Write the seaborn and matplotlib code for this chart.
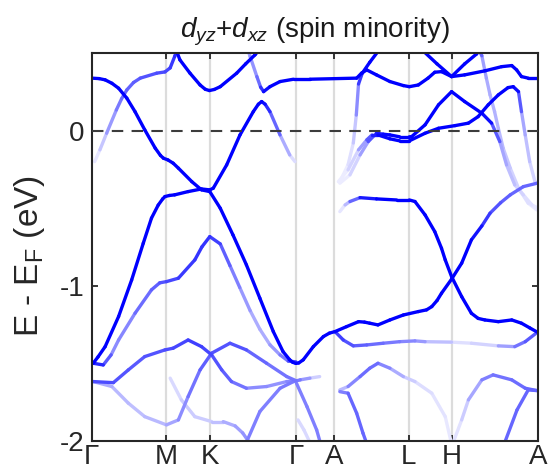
import matplotlib
matplotlib.use("Agg")
import matplotlib.pyplot as plt
import numpy as np
import pandas as pd
import seaborn as sns
from matplotlib.colors import LinearSegmentedColormap

# ---------------- data ----------------
kpos = [0.0, 1.0, 1.577, 2.732, 3.243, 4.243, 4.820, 5.975]
klabels = ["Γ", "M", "K", "Γ", "A", "L", "H", "A"]
yticks = [-2, -1, 0]
ytick_labels = ["-2", "-1", "0"]

# each band: (k, E [eV], weight of dyz+dxz character)
band_a = [(0.00, 0.338, 1), (0.10, 0.335, 1), (0.18, 0.327, 1), (0.27, 0.305, 1), (0.36, 0.273, 1),
          (0.47, 0.209, 1), (0.58, 0.122, 1), (0.71, 0.005, 1), (0.85, -0.113, 1), (0.92, -0.16, 1),
          (0.96, -0.178, 1), (1.02, -0.189, 1), (1.09, -0.21, 1), (1.16, -0.242, 1),
          (1.34, -0.329, 1), (1.47, -0.382, 1), (1.58, -0.393, 1), (1.72, -0.50, 1), (1.89, -0.672, 1),
          (2.07, -0.865, 1), (2.25, -1.08, 1), (2.43, -1.295, 1), (2.56, -1.424, 1), (2.65, -1.477, 1),
          (2.69, -1.493, 1), (2.732, -1.50, 1), (2.77, -1.497, 1), (2.83, -1.477, 1), (2.965, -1.392, 1),
          (3.10, -1.327, 1), (3.18, -1.305, 1), (3.255, -1.295, 1),
          (3.41, -1.263, 1), (3.57, -1.231, 1), (3.65, -1.234, 1), (3.72, -1.241, 1), (3.83, -1.252, 1),
          (3.99, -1.22, 1), (4.17, -1.188, 1), (4.37, -1.166, 1), (4.48, -1.155, 1), (4.55, -1.134, 1),
          (4.62, -1.095, 1), (4.68, -1.048, 1), (4.815, -0.957, 1),
          (4.95, -0.854, 1), (5.08, -0.704, 1), (5.22, -0.614, 0.85), (5.33, -0.532, 0.7),
          (5.47, -0.465, 0.65), (5.60, -0.414, 0.6), (5.775, -0.361, 0.6), (5.975, -0.337, 0.6)]
band_b = [(0.02, -1.499, 1), (0.085, -1.458, 1), (0.18, -1.392, 1), (0.36, -1.198, 1), (0.535, -0.962, 1),
          (0.69, -0.726, 1), (0.80, -0.564, 1), (0.89, -0.48, 1), (0.95, -0.44, 1), (0.98, -0.425, 1),
          (1.04, -0.418, 1), (1.11, -0.414, 1), (1.29, -0.393, 1),
          (1.47, -0.376, 1), (1.58, -0.382, 1), (1.627, -0.371, 1), (1.806, -0.221, 1), (1.984, -0.028, 1),
          (2.162, 0.122, 1), (2.23, 0.17, 1), (2.274, 0.187, 1), (2.32, 0.17, 0.9), (2.385, 0.122, 0.75),
          (2.52, -0.028, 0.45), (2.65, -0.157, 0.2), (2.72, -0.20, 0.08)]
band_c = [(0.04, -0.20, 0.05), (0.11, -0.124, 0.15), (0.20, -0.017, 0.3), (0.33, 0.133, 0.5),
          (0.40, 0.205, 0.55), (0.47, 0.262, 0.6), (0.56, 0.31, 0.62), (0.65, 0.338, 0.65),
          (0.87, 0.37, 0.7), (0.98, 0.378, 0.7), (1.05, 0.404, 0.75), (1.11, 0.477, 0.8),
          (1.14, 0.52, 0.85)]
band_d = [(1.13, 0.52, 1), (1.18, 0.456, 1), (1.315, 0.37, 1), (1.45, 0.294, 1), (1.52, 0.266, 1),
          (1.575, 0.258, 1), (1.64, 0.265, 1), (1.72, 0.283, 1), (1.94, 0.37, 1), (2.06, 0.43, 1),
          (2.185, 0.488, 1), (2.24, 0.52, 1)]
band_e = [(2.09, 0.52, 0.35), (2.12, 0.477, 0.4), (2.21, 0.348, 0.45), (2.26, 0.28, 0.7), (2.30, 0.251, 0.9),
          (2.385, 0.283, 1), (2.52, 0.316, 1), (2.70, 0.331, 1), (2.92, 0.331, 1), (3.545, 0.338, 1),
          (3.61, 0.37, 1), (3.68, 0.391, 1), (3.81, 0.359, 1), (3.99, 0.316, 1), (4.17, 0.29, 1),
          (4.25, 0.283, 1), (4.37, 0.294, 1), (4.50, 0.338, 1), (4.59, 0.376, 1), (4.68, 0.38, 1),
          (4.815, 0.348, 1), (4.99, 0.359, 1), (5.26, 0.385, 1), (5.485, 0.412, 1), (5.62, 0.419, 1),
          (5.685, 0.391, 1), (5.75, 0.348, 1), (5.84, 0.338, 1), (5.975, 0.338, 1)]
band_f = [(3.32, -0.33, 0.05), (3.43, -0.22, 0.1), (3.50, -0.08, 0.15), (3.54, 0.10, 0.3),
          (3.57, 0.30, 0.6), (3.62, 0.37, 0.95), (3.72, 0.44, 1), (3.83, 0.51, 1)]
band_g = [(3.32, -0.339, 0.05), (3.455, -0.285, 0.1), (3.59, -0.157, 0.25), (3.70, -0.071, 0.5),
          (3.81, -0.017, 0.85), (3.90, -0.023, 0.95), (3.99, -0.028, 1), (4.12, -0.04, 1),
          (4.25, -0.04, 1), (4.28, -0.039, 1), (4.46, 0.037, 1), (4.64, 0.166, 1), (4.815, 0.251, 1),
          (4.99, 0.187, 1), (5.22, 0.112, 1), (5.35, 0.048, 0.9), (5.46, -0.071, 0.4),
          (5.55, -0.221, 0.3), (5.66, -0.35, 0.2), (5.775, -0.414, 0.15), (5.89, -0.479, 0.1),
          (5.975, -0.50, 0.1)]
band_h = [(3.30, -0.329, 0.05), (3.43, -0.253, 0.1), (3.57, -0.124, 0.25), (3.68, -0.06, 0.5),
          (3.75, -0.028, 0.8), (3.83, -0.028, 0.95), (3.99, -0.053, 1), (4.12, -0.066, 1),
          (4.25, -0.066, 1), (4.46, -0.017, 1), (4.64, 0.015, 1), (4.86, 0.032, 1), (5.04, 0.048, 1),
          (5.17, 0.09, 1), (5.305, 0.166, 1), (5.44, 0.23, 1), (5.57, 0.277, 1), (5.64, 0.283, 1),
          (5.71, 0.251, 0.9), (5.75, 0.122, 0.4), (5.80, -0.028, 0.3), (5.86, -0.20, 0.2),
          (5.93, -0.329, 0.15), (5.975, -0.343, 0.1)]
band_i = [(4.42, 0.52, 1), (4.62, 0.43, 1), (4.815, 0.348, 1), (4.99, 0.43, 1), (5.15, 0.494, 1),
          (5.18, 0.52, 0.8), (5.22, 0.482, 0.4), (5.28, 0.338, 0.35), (5.33, 0.23, 0.3),
          (5.39, 0.122, 0.3), (5.44, 0.015, 0.3), (5.505, -0.113, 0.25), (5.60, -0.242, 0.2),
          (5.71, -0.371, 0.15), (5.84, -0.468, 0.1), (5.955, -0.511, 0.08)]
band_j = [(3.32, -0.522, 0.05), (3.39, -0.479, 0.15), (3.455, -0.457, 0.4), (3.59, -0.432, 0.8),
          (3.81, -0.44, 1), (4.08, -0.447, 1), (4.25, -0.447, 1), (4.325, -0.457, 1), (4.46, -0.543, 1),
          (4.59, -0.651, 1), (4.68, -0.758, 1), (4.73, -0.833, 1), (4.815, -0.941, 1), (4.95, -1.07, 1),
          (5.08, -1.177, 1), (5.17, -1.21, 1), (5.26, -1.22, 1), (5.44, -1.231, 1), (5.62, -1.22, 1),
          (5.75, -1.241, 1), (5.86, -1.271, 1), (5.975, -1.302, 1)]
band_k = [(3.255, -1.295, 0.8), (3.366, -1.349, 0.7), (3.50, -1.387, 0.65), (3.68, -1.381, 0.6),
          (3.90, -1.37, 0.55), (4.12, -1.36, 0.5), (4.325, -1.355, 0.45), (4.46, -1.36, 0.35),
          (4.815, -1.363, 0.15), (5.08, -1.37, 0.1), (5.44, -1.387, 0.25), (5.66, -1.392, 0.5),
          (5.80, -1.36, 0.6), (5.955, -1.302, 0.7)]
band_l = [(0.02, -1.617, 0.7), (0.29, -1.624, 0.7), (0.49, -1.542, 0.65), (0.71, -1.456, 0.65),
          (0.98, -1.413, 0.7), (1.09, -1.402, 0.7), (1.29, -1.349, 0.75), (1.47, -1.392, 0.75),
          (1.605, -1.445, 0.7), (1.74, -1.542, 0.65), (1.87, -1.617, 0.6), (2.07, -1.66, 0.5),
          (2.34, -1.649, 0.4), (2.61, -1.617, 0.45), (2.732, -1.611, 0.5)]
band_m = [(0.02, -1.617, 0.35), (0.27, -1.649, 0.3), (0.49, -1.756, 0.25), (0.71, -1.843, 0.25),
          (1.00, -1.896, 0.3), (1.16, -1.864, 0.4), (1.29, -1.714, 0.5), (1.45, -1.542, 0.6),
          (1.605, -1.434, 0.65), (1.85, -1.37, 0.7), (2.07, -1.413, 0.65), (2.34, -1.499, 0.55),
          (2.61, -1.585, 0.55), (2.732, -1.611, 0.55)]
band_n = [(1.05, -1.595, 0.1), (1.20, -1.735, 0.2), (1.38, -1.843, 0.2), (1.605, -1.875, 0.2),
          (1.76, -1.875, 0.3), (1.92, -1.903, 0.35), (2.02, -1.948, 0.4), (2.095, -2.0, 0.45),
          (2.13, -2.03, 0.45)]
band_o = [(2.05, -2.03, 0.5), (2.25, -1.81, 0.5), (2.52, -1.66, 0.5), (2.70, -1.617, 0.55),
          (2.79, -1.606, 0.5), (2.92, -1.595, 0.3), (3.05, -1.585, 0.08)]
band_p = [(2.74, -1.628, 0.5), (2.88, -1.778, 0.5), (3.01, -1.929, 0.5), (3.07, -2.03, 0.5)]
band_q = [(2.76, -1.864, 0.15), (2.84, -1.929, 0.15), (2.94, -2.03, 0.15)]
band_r = [(3.32, -1.671, 0.15), (3.43, -1.649, 0.4), (3.59, -1.585, 0.55), (3.72, -1.531, 0.6),
          (3.83, -1.499, 0.55), (3.99, -1.531, 0.4), (4.17, -1.585, 0.25), (4.325, -1.617, 0.15),
          (4.55, -1.692, 0.12), (4.73, -1.843, 0.1), (4.82, -2.03, 0.08)]
band_s = [(4.82, -2.03, 0.08), (4.95, -1.864, 0.15), (5.04, -1.735, 0.25), (5.22, -1.606, 0.45),
          (5.37, -1.574, 0.55), (5.62, -1.606, 0.55), (5.80, -1.66, 0.6), (5.955, -1.675, 0.6)]
band_t = [(5.51, -2.03, 0.6), (5.69, -1.80, 0.6), (5.84, -1.671, 0.6), (5.955, -1.675, 0.6)]
band_u = [(3.32, -1.682, 0.4), (3.43, -1.692, 0.6), (3.545, -1.821, 0.6), (3.63, -1.95, 0.6),
          (3.69, -2.03, 0.6)]
band_v = [(0.02, -1.499, 0.9), (0.155, -1.51, 0.8), (0.26, -1.445, 0.5), (0.36, -1.349, 0.4),
          (0.58, -1.177, 0.55), (0.80, -1.026, 0.6), (0.91, -0.981, 0.65), (1.00, -0.973, 0.7),
          (1.16, -0.951, 0.75), (1.38, -0.833, 0.8), (1.475, -0.749, 0.8), (1.58, -0.683, 0.8),
          (1.72, -0.73, 0.7), (1.85, -0.87, 0.55), (1.98, -1.01, 0.45), (2.12, -1.16, 0.35),
          (2.25, -1.28, 0.3), (2.385, -1.38, 0.35), (2.52, -1.445, 0.45), (2.63, -1.485, 0.6),
          (2.732, -1.49, 0.8)]

bands = [band_a, band_b, band_c, band_d, band_e, band_f, band_g, band_h, band_i, band_j, band_k,
         band_l, band_m, band_n, band_o, band_p, band_q, band_r, band_s, band_t, band_u, band_v]

# ---------------- style ----------------
sns.set_style("ticks")
plt.rcParams["font.family"] = ["Liberation Sans", "DejaVu Sans"]
plt.rcParams["mathtext.fontset"] = "custom"
plt.rcParams["mathtext.rm"] = "Liberation Sans"
plt.rcParams["mathtext.it"] = "Liberation Sans:italic"
plt.rcParams["mathtext.bf"] = "Liberation Sans:bold"

fig = plt.figure(figsize=(5.48, 4.74), dpi=100)
ax = fig.add_axes([0.1673, 0.0696, 0.8150, 0.8186])

for k in kpos[1:-1]:
    ax.axvline(k, color="#dcdcdc", lw=1.6, zorder=0)

rows = []
seg = 0
for band in bands:
    for (k0, e0, w0), (k1, e1, w1) in zip(band[:-1], band[1:]):
        w = 0.5 * (w0 + w1)
        rows.append((seg, k0, e0, w))
        rows.append((seg, k1, e1, w))
        seg += 1
df = pd.DataFrame(rows, columns=["seg", "k", "E", "w"])

cmap = LinearSegmentedColormap.from_list("wb", ["#ffffff", "#0000ff"])
sns.lineplot(data=df, x="k", y="E", units="seg", hue="w", palette=cmap, hue_norm=(0, 1),
             estimator=None, sort=False, legend=False, lw=2.4, solid_capstyle="round",
             ax=ax, zorder=2)

ax.axhline(0, color="#3c3c3c", lw=1.5, ls=(0, (5.5, 4)), zorder=3)

ax.set_xlim(kpos[0], kpos[-1])
ax.set_ylim(-2, 0.5)
ax.set_xticks(kpos)
ax.set_xticklabels(klabels)
ax.set_yticks(yticks)
ax.set_yticklabels(ytick_labels)
ax.tick_params(direction="in", top=True, right=True, length=4, width=1.3, labelsize=20,
               color="#262626", labelcolor="#262626")
ax.tick_params(axis="x", pad=2)
ax.tick_params(axis="y", pad=5)
for s in ax.spines.values():
    s.set_linewidth(1.5)
    s.set_color("#262626")
ax.set_xlabel("")
ax.set_ylabel("E - E$_\\mathrm{F}$ (eV)", fontsize=24, color="#262626")
ax.yaxis.set_label_coords(-0.101, 0.477)
ax.set_title("$d_{yz}$+$d_{xz}$ (spin minority)", fontsize=20, color="#1a1a1a", pad=11)

fig.savefig("out.png", dpi=100)
